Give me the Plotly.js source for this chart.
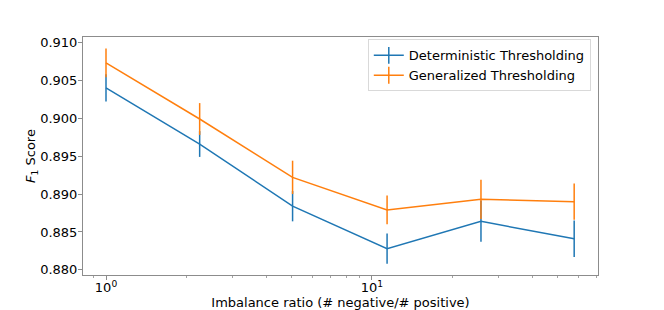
<!DOCTYPE html>
<html>
<head>
<meta charset="utf-8">
<script src="https://cdn.plot.ly/plotly-3.0.1.min.js"></script>
<style>html,body{margin:0;padding:0;background:#fff;}#chart{width:664px;height:310px;}</style>
</head>
<body>
<div id="chart"></div>
<script>
// Imbalance ratios (x, log scale)
const ratios = [1, 2.25, 5.03, 11.4, 25.7, 57.6];
// Deterministic Thresholding
const detF1 = [0.9040, 0.8966, 0.8884, 0.8828, 0.8864, 0.8841];
const detErr = [0.0018, 0.0017, 0.0020, 0.0020, 0.0027, 0.0024];
// Generalized Thresholding
const genF1 = [0.9073, 0.8999, 0.8922, 0.8879, 0.8893, 0.8890];
const genErr = [0.0019, 0.0021, 0.0022, 0.0019, 0.0026, 0.0024];
// Series names
const seriesNames = ['Deterministic Thresholding', 'Generalized Thresholding'];
// Ticks
const xTickVals = [1, 10];
const xTickText = ['10<sup>0</sup>', '10<sup>1</sup>'];
const xMinorVals = [0.9, 2, 3, 4, 5, 6, 7, 8, 9, 20, 30, 40, 50, 60, 70];
const yTickVals = [0.880, 0.885, 0.890, 0.895, 0.900, 0.905, 0.910];

const blue = '#1f77b4', orange = '#ff7f0e';
const font = {family: 'DejaVu Sans', size: 13, color: '#000'};

function series(y, err, color, name) {
  return {
    x: ratios, y: y, type: 'scatter', mode: 'lines', name: name,
    showlegend: false,
    line: {color: color, width: 1.5},
    error_y: {type: 'data', array: err, visible: true, color: color, thickness: 1.5, width: 0}
  };
}
function legendItem(color, name) {
  return {
    x: [null], y: [null], type: 'scatter', mode: 'lines+markers', name: name,
    line: {color: color, width: 1.5},
    marker: {symbol: 'line-ns-open', size: 12, color: color, line: {color: color, width: 1.5}}
  };
}

const data = [
  series(detF1, detErr, blue, seriesNames[0]),
  series(genF1, genErr, orange, seriesNames[1]),
  legendItem(blue, seriesNames[0]),
  legendItem(orange, seriesNames[1])
];

const axisLine = '#8c8c8c';
const layout = {
  width: 664, height: 310,
  margin: {l: 83, r: 66, t: 37, b: 35, pad: 0},
  paper_bgcolor: '#fff', plot_bgcolor: '#fff',
  font: font,
  showlegend: true,
  legend: {
    x: 0.986, y: 0.99, xanchor: 'right', yanchor: 'top',
    bgcolor: '#fff', bordercolor: '#d9d9d9', borderwidth: 1,
    font: font, tracegroupgap: 0
  },
  xaxis: {
    type: 'log', range: [-0.0865, 1.850],
    tickvals: xTickVals, ticktext: xTickText,
    ticks: 'outside', ticklen: 3.5, tickwidth: 1, tickcolor: axisLine,
    ticklabelstandoff: -3,
    minor: {tickvals: xMinorVals, ticks: 'outside', ticklen: 2, tickwidth: 0.8, tickcolor: axisLine, showgrid: false},
    showgrid: false, zeroline: false,
    showline: true, mirror: true, linecolor: axisLine, linewidth: 1,
    tickfont: font,
    title: {text: 'Imbalance ratio (# negative/# positive)', font: font, standoff: 6}
  },
  yaxis: {
    range: [0.87932, 0.91072],
    tickvals: yTickVals, tickformat: '.3f',
    ticks: 'outside', ticklen: 4, tickwidth: 1, tickcolor: axisLine,
    ticklabelstandoff: -2,
    showgrid: false, zeroline: false,
    showline: true, mirror: true, linecolor: axisLine, linewidth: 1,
    tickfont: font,
    title: {text: '<i>F</i><sub>1</sub> Score', font: font, standoff: 0}
  }
};

Plotly.newPlot('chart', data, layout, {displayModeBar: false, staticPlot: true});
</script>
</body>
</html>
